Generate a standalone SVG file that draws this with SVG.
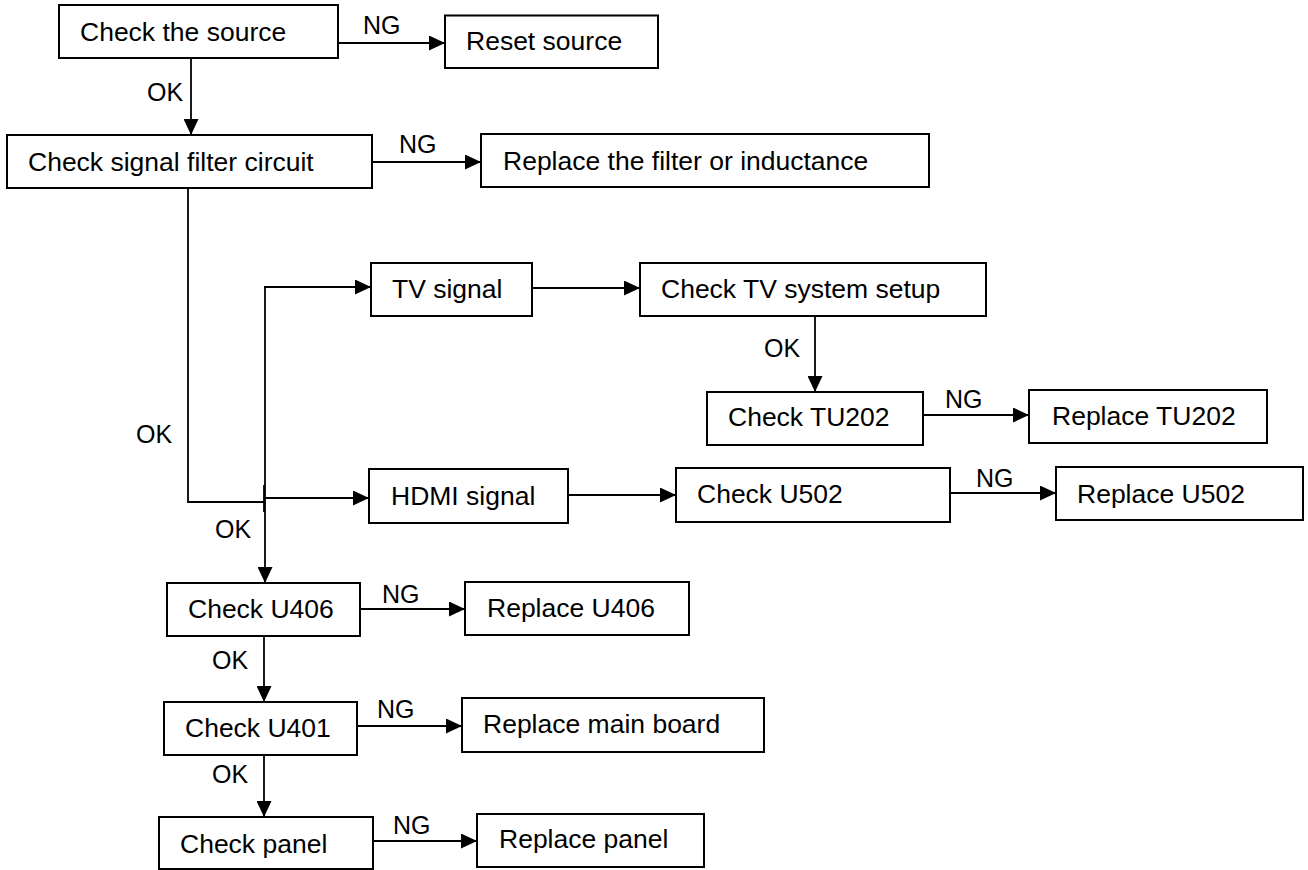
<svg xmlns="http://www.w3.org/2000/svg" width="1308" height="870" viewBox="0 0 1308 870">
<style>
.box{fill:#fff;stroke:#000;stroke-width:2}
.t{font-family:"Liberation Sans",Arial,sans-serif;font-size:26.5px;fill:#000}
.l{font-family:"Liberation Sans",Arial,sans-serif;font-size:25px;fill:#000}
.c{fill:none;stroke:#000;stroke-width:1.8}
.a{marker-end:url(#ah)}
</style>
<defs>
<marker id="ah" viewBox="0 0 16 15" refX="16" refY="7.5" markerWidth="16" markerHeight="15" markerUnits="userSpaceOnUse" orient="auto">
<path d="M0,0 L16,7.5 L0,15 Z" fill="#000"/>
</marker>
</defs>
<rect width="1308" height="870" fill="#fff"/>
<g id="connectors">
<line class="c a" x1="338" y1="43" x2="445" y2="43"/>
<line class="c a" x1="191" y1="58" x2="191" y2="135"/>
<line class="c a" x1="372" y1="162" x2="481" y2="162"/>
<polyline class="c" points="188,188 188,502 264,502"/>
<line class="c" x1="264" y1="485" x2="264" y2="512" stroke-width="2.6"/>
<line class="c a" x1="265" y1="498" x2="369" y2="498"/>
<line class="c a" x1="265" y1="287" x2="265" y2="583"/>
<line class="c a" x1="264" y1="287" x2="371" y2="287"/>
<line class="c a" x1="532" y1="288" x2="640" y2="288"/>
<line class="c a" x1="815" y1="316" x2="815" y2="392"/>
<line class="c a" x1="923" y1="415" x2="1029" y2="415"/>
<line class="c a" x1="568" y1="495" x2="676" y2="495"/>
<line class="c a" x1="950" y1="493" x2="1056" y2="493"/>
<line class="c a" x1="360" y1="609" x2="465" y2="609"/>
<line class="c a" x1="264" y1="636" x2="264" y2="702"/>
<line class="c a" x1="357" y1="726" x2="462" y2="726"/>
<line class="c a" x1="264" y1="752" x2="264" y2="817"/>
<line class="c a" x1="373" y1="841" x2="477" y2="841"/>
<text class="l" x="363" y="34">NG</text>
<text class="l" x="147" y="101">OK</text>
<text class="l" x="399" y="153">NG</text>
<text class="l" x="136" y="443">OK</text>
<text class="l" x="215" y="538">OK</text>
<text class="l" x="764" y="357">OK</text>
<text class="l" x="945" y="408">NG</text>
<text class="l" x="976" y="487">NG</text>
<text class="l" x="382" y="603">NG</text>
<text class="l" x="212" y="669">OK</text>
<text class="l" x="377" y="718">NG</text>
<text class="l" x="212" y="783">OK</text>
<text class="l" x="393" y="834">NG</text>
</g>
<g id="n-source"><rect class="box" x="59" y="5" width="279" height="53"/><text class="t" x="80" y="41">Check the source</text></g>
<g id="n-reset"><rect class="box" x="445" y="15.5" width="213" height="52.5"/><text class="t" x="466" y="50">Reset source</text></g>
<g id="n-filter"><rect class="box" x="7" y="135" width="365" height="53"/><text class="t" x="28" y="171">Check signal filter circuit</text></g>
<g id="n-replfilter"><rect class="box" x="481" y="134" width="448" height="53"/><text class="t" x="503" y="170">Replace the filter or inductance</text></g>
<g id="n-tv"><rect class="box" x="371" y="263" width="161" height="53"/><text class="t" x="392" y="298">TV signal</text></g>
<g id="n-setup"><rect class="box" x="640" y="263" width="346" height="53"/><text class="t" x="661" y="298">Check TV system setup</text></g>
<g id="n-tu202"><rect class="box" x="707" y="392" width="216" height="53"/><text class="t" x="728" y="426">Check TU202</text></g>
<g id="n-repltu202"><rect class="box" x="1029" y="390" width="238" height="53"/><text class="t" x="1052" y="425">Replace TU202</text></g>
<g id="n-hdmi"><rect class="box" x="369" y="469" width="199" height="54"/><text class="t" x="391" y="505">HDMI signal</text></g>
<g id="n-u502"><rect class="box" x="676" y="468" width="274" height="54"/><text class="t" x="697" y="503">Check U502</text></g>
<g id="n-replu502"><rect class="box" x="1056" y="467" width="247" height="53"/><text class="t" x="1077" y="503">Replace U502</text></g>
<g id="n-u406"><rect class="box" x="167" y="583" width="193" height="53"/><text class="t" x="188" y="618">Check U406</text></g>
<g id="n-replu406"><rect class="box" x="465" y="582" width="224" height="53"/><text class="t" x="487" y="617">Replace U406</text></g>
<g id="n-u401"><rect class="box" x="164" y="702" width="193" height="53"/><text class="t" x="185" y="737">Check U401</text></g>
<g id="n-replmain"><rect class="box" x="462" y="698" width="302" height="54"/><text class="t" x="483" y="733">Replace main board</text></g>
<g id="n-panel"><rect class="box" x="159" y="817" width="214" height="52"/><text class="t" x="180" y="853">Check panel</text></g>
<g id="n-replpanel"><rect class="box" x="477" y="814" width="227" height="53"/><text class="t" x="499" y="848">Replace panel</text></g>
</svg>
